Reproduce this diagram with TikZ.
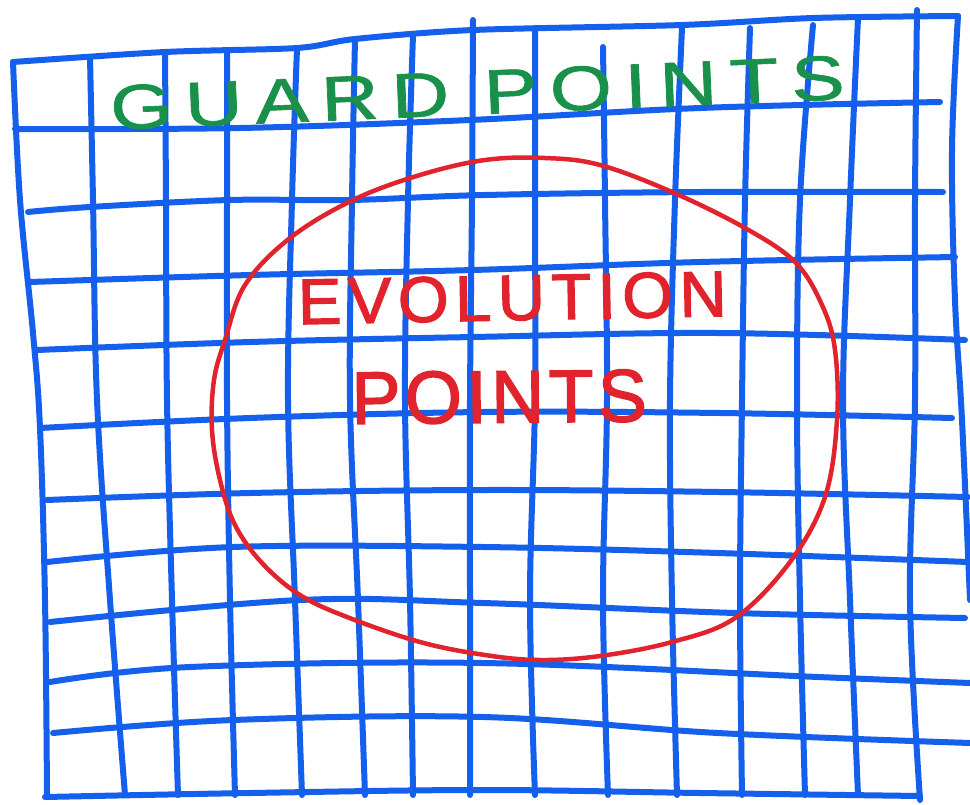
\documentclass[tikz,border=0pt]{standalone}
\usepackage{fontspec}
\setmainfont{Liberation Sans}
\usepackage{graphicx}
\definecolor{pen}{RGB}{20,95,235}
\definecolor{gpen}{RGB}{25,145,75}
\definecolor{rpen}{RGB}{225,35,45}
\tikzset{
  gridline/.style={draw=pen, line width=6pt, line cap=round, line join=round},
  redline/.style={draw=rpen, line width=4.5pt, line cap=round, line join=round},
  greentext/.style={text=gpen, inner sep=0pt},
  redtext/.style={text=rpen, inner sep=0pt}
}
\begin{document}
\begin{tikzpicture}[x=1pt,y=-1pt]
\useasboundingbox (0,0) rectangle (970,804);
\fill[white] (0,0) rectangle (970,804);
% borders
\draw[gridline] plot[smooth, tension=0.5] coordinates {(13,62) (165,52) (297,48) (355,39) (473,30) (682,25) (813,18) (958,16)};
\draw[gridline] plot[smooth, tension=0.6] coordinates {(13,62) (20,200) (33,333) (40,428) (45,600) (47,797)};
\draw[gridline] plot[smooth, tension=0.6] coordinates {(958,16) (952,150) (955,300) (962,420) (970,600)};
\draw[gridline] plot[smooth, tension=0.6] coordinates {(45,797) (250,793) (483,790) (700,793) (920,796)};
% horizontal lines
\draw[gridline] plot[smooth, tension=0.6] coordinates {(15,129) (240,128) (470,120) (700,108) (940,102)};
\draw[gridline] plot[smooth, tension=0.6] coordinates {(28,212) (90,207) (230,200) (350,200) (485,195) (700,192) (943,192)};
\draw[gridline] plot[smooth, tension=0.6] coordinates {(30,282) (250,275) (473,270) (700,262) (955,257)};
\draw[gridline] plot[smooth, tension=0.6] coordinates {(37,350) (250,342) (473,337) (718,333) (965,340)};
\draw[gridline] plot[smooth, tension=0.6] coordinates {(40,428) (250,418) (483,412) (720,413) (952,418)};
\draw[gridline] plot[smooth, tension=0.6] coordinates {(47,500) (250,493) (483,490) (720,492) (968,497)};
\draw[gridline] plot[smooth, tension=0.6] coordinates {(47,562) (233,547) (483,547) (718,553) (968,562)};
\draw[gridline] plot[smooth, tension=0.6] coordinates {(50,622) (300,600) (483,603) (735,613) (965,618)};
\draw[gridline] plot[smooth, tension=0.6] coordinates {(50,682) (190,667) (483,663) (818,677) (970,683)};
\draw[gridline] plot[smooth, tension=0.6] coordinates {(53,733) (233,720) (483,717) (718,733) (970,743)};
% vertical lines
\draw[gridline] plot[smooth, tension=0.6] coordinates {(90,57) (93,200) (97,400) (110,600) (125,795)};
\draw[gridline] plot[smooth, tension=0.6] coordinates {(165,52) (166,200) (167,400) (172,600) (178,795)};
\draw[gridline] plot[smooth, tension=0.6] coordinates {(227,50) (227,200) (227,400) (230,600) (235,795)};
\draw[gridline] plot[smooth, tension=0.6] coordinates {(297,48) (292,200) (288,400) (295,600) (302,795)};
\draw[gridline] plot[smooth, tension=0.6] coordinates {(355,39) (352,200) (350,400) (358,600) (365,795)};
\draw[gridline] plot[smooth, tension=0.6] coordinates {(413,35) (408,200) (405,400) (410,600) (413,795)};
\draw[gridline] plot[smooth, tension=0.6] coordinates {(473,20) (472,200) (470,400) (470,600) (470,795)};
\draw[gridline] plot[smooth, tension=0.6] coordinates {(535,28) (535,200) (535,400) (530,600) (535,795)};
\draw[gridline] plot[smooth, tension=0.6] coordinates {(603,47) (605,200) (607,400) (603,600) (608,795)};
\draw[gridline] plot[smooth, tension=0.6] coordinates {(682,28) (675,200) (670,400) (672,600) (677,795)};
\draw[gridline] plot[smooth, tension=0.6] coordinates {(750,28) (745,200) (742,400) (740,600) (742,795)};
\draw[gridline] plot[smooth, tension=0.6] coordinates {(813,25) (800,200) (797,400) (800,600) (805,795)};
\draw[gridline] plot[smooth, tension=0.6] coordinates {(858,18) (850,200) (843,400) (850,600) (858,795)};
\draw[gridline] plot[smooth, tension=0.6] coordinates {(917,10) (915,200) (915,400) (910,600) (920,800)};
% red boundary
\draw[redline] plot[smooth cycle, tension=0.6] coordinates {
 (485,160) (545,158) (600,165) (672,192) (745,228) (795,262) (822,305) (835,350)
 (837,420) (825,497) (790,562) (735,618) (672,642) (600,656) (540,660) (485,655)
 (420,642) (347,617) (300,595) (262,563) (235,525) (220,480) (212,430) (214,380)
 (225,340) (245,285) (290,238) (353,200) (420,175)};
% texts
\node[greentext, rotate=2.4] (guard) at (471,93)
  {\resizebox{722pt}{44pt}{\addfontfeature{LetterSpace=16,FakeBold=1}GUARD POINTS\kern-0.16em}};
\node[redtext, rotate=1.1] (evol) at (509,298)
  {\resizebox{422pt}{45pt}{\addfontfeature{LetterSpace=10,FakeBold=2}EVOLUTION\kern-0.10em}};
\node[redtext, rotate=0.5] (pts) at (497,397)
  {\resizebox{291pt}{52pt}{\addfontfeature{LetterSpace=6,FakeBold=2}POINTS\kern-0.06em}};
\end{tikzpicture}
\end{document}
